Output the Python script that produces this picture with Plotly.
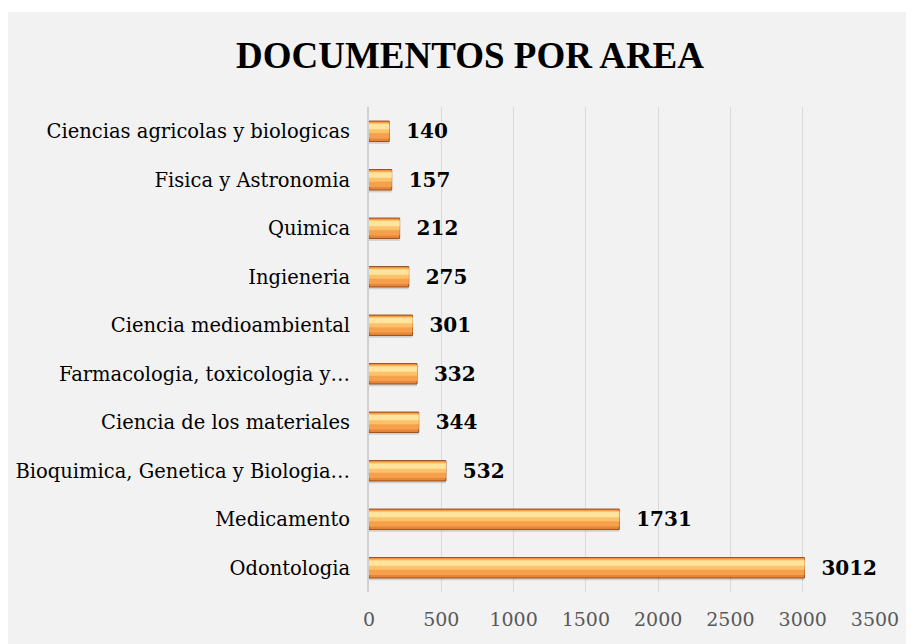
import plotly.graph_objects as go

# Data (bottom to top as drawn)
categories = [
    "Odontologia",
    "Medicamento",
    "Bioquimica, Genetica y Biologia…",
    "Ciencia de los materiales",
    "Farmacologia, toxicologia y…",
    "Ciencia medioambiental",
    "Ingieneria",
    "Quimica",
    "Fisica y Astronomia",
    "Ciencias agricolas y biologicas",
]
values = [3012, 1731, 532, 344, 332, 301, 275, 212, 157, 140]
x_ticks = [0, 500, 1000, 1500, 2000, 2500, 3000, 3500]
title_text = "DOCUMENTOS POR AREA"

# page body adds an 8px margin, so the figure is drawn 8px smaller
W, H = 906, 636
L, R, T, B = 361, 39, 99, 52
pw = W - L - R
ph = H - T - B

fig = go.Figure()

# soft shadow
fig.add_trace(go.Bar(
    y=categories, x=values, orientation="h",
    offset=-0.26, width=0.08,
    marker=dict(color="rgba(110,110,110,0.25)", line=dict(width=0)),
    hoverinfo="skip", showlegend=False,
))
# base (dark orange with brown edge)
fig.add_trace(go.Bar(
    y=categories, x=values, orientation="h",
    offset=-0.21, width=0.42,
    marker=dict(color="#e6863a", line=dict(color="#9a4e1c", width=1)),
    text=["\u00a0\u00a0" + str(v) for v in values],
    textposition="outside",
    constraintext="none",
    textfont=dict(family="DejaVu Serif", size=20, color="#000000", weight="bold"),
    cliponaxis=False,
    hoverinfo="skip", showlegend=False,
))
# body orange
fig.add_trace(go.Bar(
    y=categories, x=values, orientation="h",
    offset=-0.15, width=0.34,
    marker=dict(color="#f6a04b", line=dict(width=0)),
    hoverinfo="skip", showlegend=False,
))
# upper highlight
fig.add_trace(go.Bar(
    y=categories, x=values, orientation="h",
    offset=-0.04, width=0.21,
    marker=dict(color="#fbc16b", line=dict(width=0)),
    hoverinfo="skip", showlegend=False,
))
# top shine
fig.add_trace(go.Bar(
    y=categories, x=values, orientation="h",
    offset=0.04, width=0.11,
    marker=dict(color="#fee49c", line=dict(width=0)),
    hoverinfo="skip", showlegend=False,
))

# gray chart-area background (thin white strip at top like the original)
fig.add_shape(
    type="rect", xref="paper", yref="paper",
    x0=-L / pw - 0.01, x1=(W - L) / pw + 0.01,
    y0=-B / ph - 0.01, y1=(ph + T - 4) / ph,
    fillcolor="#f2f2f2", line=dict(width=0), layer="below",
)

fig.update_layout(
    width=W, height=H,
    margin=dict(l=L, r=R, t=T, b=B, autoexpand=False),
    paper_bgcolor="#ffffff",
    plot_bgcolor="#f2f2f2",
    barmode="overlay",
    title=dict(
        text=title_text,
        font=dict(family="Liberation Serif", size=37, color="#000000", weight="bold"),
        x=462 / W, xref="container", xanchor="center",
        y=1 - 47 / H, yref="container", yanchor="middle",
    ),
    xaxis=dict(
        range=[0, 3500],
        tickvals=x_ticks,
        ticktext=[str(t) for t in x_ticks],
        showgrid=True, gridcolor="#d9d9d9", gridwidth=1,
        zeroline=False, showline=False, automargin=False,
        ticks="", ticklabelstandoff=14,
        tickfont=dict(family="DejaVu Serif", size=19, color="#595959"),
    ),
    yaxis=dict(
        type="category",
        categoryorder="array", categoryarray=categories,
        range=[-0.5, len(categories) - 0.5],
        showgrid=False, zeroline=False, automargin=False,
        showline=True, linecolor="#d0d0d0", linewidth=2,
        ticks="", ticklabelstandoff=13,
        tickfont=dict(family="DejaVu Serif", size=19.5, color="#000000"),
    ),
)

fig.write_html("out.html")
